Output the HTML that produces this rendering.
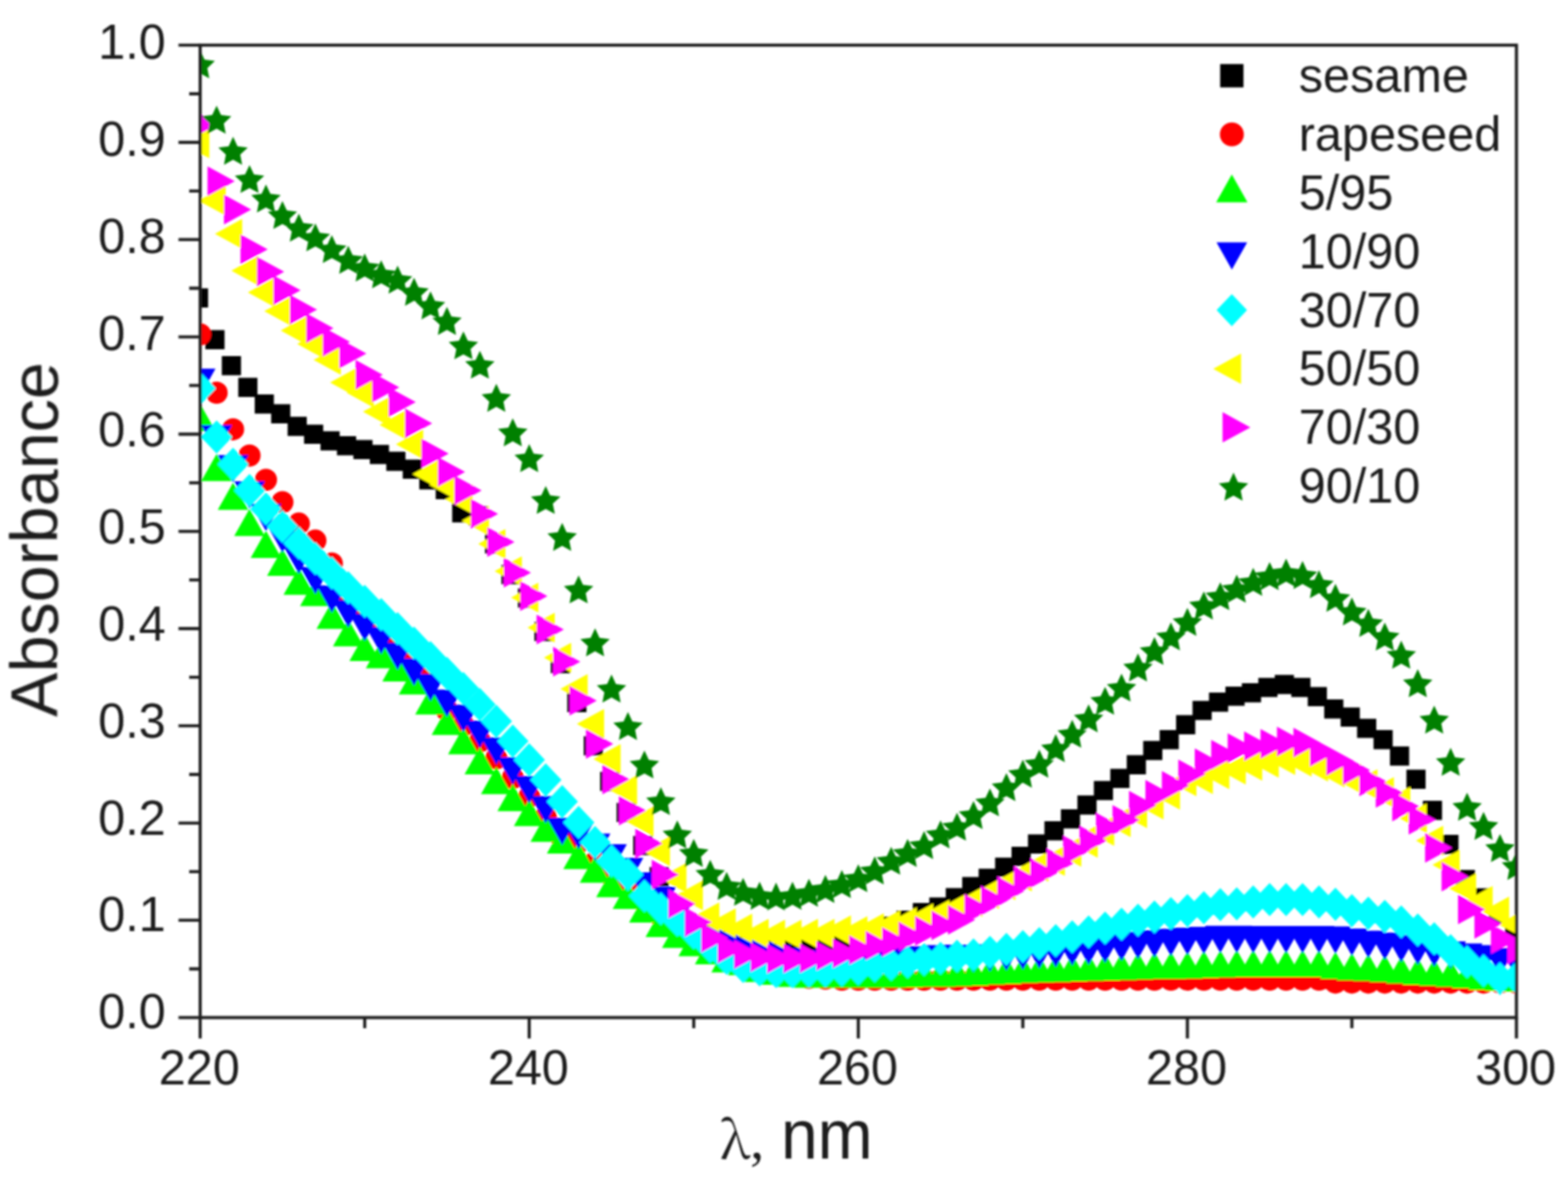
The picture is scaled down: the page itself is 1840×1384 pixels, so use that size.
<!DOCTYPE html>
<html><head><meta charset="utf-8"><title>Absorbance spectra</title>
<style>
html,body{margin:0;padding:0;background:#fff;}
body{width:1840px;height:1384px;overflow:hidden;}
svg{display:block;}
text{font-family:"Liberation Sans",Arial,sans-serif;fill:#1c1c1c;}
</style></head><body>
<svg xmlns="http://www.w3.org/2000/svg" width="1840" height="1384" viewBox="0 0 1840 1384">
<rect width="1840" height="1384" fill="#fff"/>
<defs><filter id="soft" x="0" y="0" width="100%" height="100%" filterUnits="userSpaceOnUse"><feGaussianBlur stdDeviation="0.9"/></filter><clipPath id="pa"><rect x="234.9" y="53" width="1544.6" height="1141.5"/></clipPath></defs>

<g filter="url(#soft)">
<g clip-path="url(#pa)">
<path fill="#000000" d="M221.7 338.5h22.5v22.5h-22.5zM241 387.6h22.5v22.5h-22.5zM260.3 417.9h22.5v22.5h-22.5zM279.6 443.6h22.5v22.5h-22.5zM298.9 463h22.5v22.5h-22.5zM318.2 474.4h22.5v22.5h-22.5zM337.5 489.2h22.5v22.5h-22.5zM356.8 498.4h22.5v22.5h-22.5zM376.1 506.3h22.5v22.5h-22.5zM395.4 512h22.5v22.5h-22.5zM414.7 516.6h22.5v22.5h-22.5zM434 522.3h22.5v22.5h-22.5zM453.3 530.3h22.5v22.5h-22.5zM472.6 539.4h22.5v22.5h-22.5zM492 552h22.5v22.5h-22.5zM511.3 563.4h22.5v22.5h-22.5zM530.6 590.8h22.5v22.5h-22.5zM549.9 594.2h22.5v22.5h-22.5zM569.2 627.3h22.5v22.5h-22.5zM588.5 663.3h22.5v22.5h-22.5zM607.8 690.8h22.5v22.5h-22.5zM627.1 730.1h22.5v22.5h-22.5zM646.4 767.7h22.5v22.5h-22.5zM665.7 813.4h22.5v22.5h-22.5zM685 864.2h22.5v22.5h-22.5zM704.3 906.1h22.5v22.5h-22.5zM723.6 942.4h22.5v22.5h-22.5zM743 981.2h22.5v22.5h-22.5zM762.3 1017.7h22.5v22.5h-22.5zM781.6 1052h22.5v22.5h-22.5zM800.9 1074.8h22.5v22.5h-22.5zM820.2 1086.2h22.5v22.5h-22.5zM839.5 1093.1h22.5v22.5h-22.5zM858.8 1097.6h22.5v22.5h-22.5zM878.1 1097.6h22.5v22.5h-22.5zM897.4 1095.4h22.5v22.5h-22.5zM916.7 1094.2h22.5v22.5h-22.5zM936 1093.1h22.5v22.5h-22.5zM955.3 1091.9h22.5v22.5h-22.5zM974.6 1090.8h22.5v22.5h-22.5zM993.9 1087.4h22.5v22.5h-22.5zM1013.3 1082.8h22.5v22.5h-22.5zM1032.6 1075.9h22.5v22.5h-22.5zM1051.9 1069.1h22.5v22.5h-22.5zM1071.2 1060h22.5v22.5h-22.5zM1090.5 1053.5h22.5v22.5h-22.5zM1109.8 1042.6h22.5v22.5h-22.5zM1129.1 1029.6h22.5v22.5h-22.5zM1148.4 1019.8h22.5v22.5h-22.5zM1167.7 1006.8h22.5v22.5h-22.5zM1187 993.9h22.5v22.5h-22.5zM1206.3 979.4h22.5v22.5h-22.5zM1225.6 963.9h22.5v22.5h-22.5zM1244.9 949.9h22.5v22.5h-22.5zM1264.3 933.7h22.5v22.5h-22.5zM1283.6 916.7h22.5v22.5h-22.5zM1302.9 902.6h22.5v22.5h-22.5zM1322.2 886.5h22.5v22.5h-22.5zM1341.5 869.7h22.5v22.5h-22.5zM1360.8 856.9h22.5v22.5h-22.5zM1380.1 839.5h22.5v22.5h-22.5zM1399.4 822.8h22.5v22.5h-22.5zM1418.7 812.9h22.5v22.5h-22.5zM1438 806.1h22.5v22.5h-22.5zM1457.3 802h22.5v22.5h-22.5zM1476.6 795.7h22.5v22.5h-22.5zM1495.9 792.3h22.5v22.5h-22.5zM1515.3 795.7h22.5v22.5h-22.5zM1534.6 806.6h22.5v22.5h-22.5zM1553.9 821.1h22.5v22.5h-22.5zM1573.2 830.5h22.5v22.5h-22.5zM1592.5 843.8h22.5v22.5h-22.5zM1611.8 857.1h22.5v22.5h-22.5zM1631.1 876.2h22.5v22.5h-22.5zM1650.4 903.6h22.5v22.5h-22.5zM1669.7 940.1h22.5v22.5h-22.5zM1689 980.1h22.5v22.5h-22.5zM1708.3 1021.2h22.5v22.5h-22.5zM1727.6 1042.8h22.5v22.5h-22.5zM1746.9 1063.4h22.5v22.5h-22.5zM1766.2 1080.5h22.5v22.5h-22.5z"/>
<path fill="#ff0000" d="M221.9 392.5a13 13 0 1 0 26 0a13 13 0 1 0 -26 0zM241.2 461a13 13 0 1 0 26 0a13 13 0 1 0 -26 0zM260.5 503.9a13 13 0 1 0 26 0a13 13 0 1 0 -26 0zM279.8 534.7a13 13 0 1 0 26 0a13 13 0 1 0 -26 0zM299.1 563.3a13 13 0 1 0 26 0a13 13 0 1 0 -26 0zM318.4 589.5a13 13 0 1 0 26 0a13 13 0 1 0 -26 0zM337.7 614.6a13 13 0 1 0 26 0a13 13 0 1 0 -26 0zM357.1 634.6a13 13 0 1 0 26 0a13 13 0 1 0 -26 0zM376.4 661.4a13 13 0 1 0 26 0a13 13 0 1 0 -26 0zM395.7 701.4a13 13 0 1 0 26 0a13 13 0 1 0 -26 0zM415 717.4a13 13 0 1 0 26 0a13 13 0 1 0 -26 0zM434.3 732.9a13 13 0 1 0 26 0a13 13 0 1 0 -26 0zM453.6 749.3a13 13 0 1 0 26 0a13 13 0 1 0 -26 0zM472.9 766.4a13 13 0 1 0 26 0a13 13 0 1 0 -26 0zM492.2 783.6a13 13 0 1 0 26 0a13 13 0 1 0 -26 0zM511.5 833.8a13 13 0 1 0 26 0a13 13 0 1 0 -26 0zM530.8 851.6a13 13 0 1 0 26 0a13 13 0 1 0 -26 0zM550.1 870.3a13 13 0 1 0 26 0a13 13 0 1 0 -26 0zM569.4 890.2a13 13 0 1 0 26 0a13 13 0 1 0 -26 0zM588.7 913.3a13 13 0 1 0 26 0a13 13 0 1 0 -26 0zM608 935.4a13 13 0 1 0 26 0a13 13 0 1 0 -26 0zM627.4 958.8a13 13 0 1 0 26 0a13 13 0 1 0 -26 0zM646.7 984.5a13 13 0 1 0 26 0a13 13 0 1 0 -26 0zM666 989a13 13 0 1 0 26 0a13 13 0 1 0 -26 0zM685.3 1011.9a13 13 0 1 0 26 0a13 13 0 1 0 -26 0zM704.6 1027.8a13 13 0 1 0 26 0a13 13 0 1 0 -26 0zM723.9 1042.7a13 13 0 1 0 26 0a13 13 0 1 0 -26 0zM743.2 1058.7a13 13 0 1 0 26 0a13 13 0 1 0 -26 0zM762.5 1075.8a13 13 0 1 0 26 0a13 13 0 1 0 -26 0zM781.8 1089.5a13 13 0 1 0 26 0a13 13 0 1 0 -26 0zM801.1 1100.9a13 13 0 1 0 26 0a13 13 0 1 0 -26 0zM820.4 1112.3a13 13 0 1 0 26 0a13 13 0 1 0 -26 0zM839.7 1122.6a13 13 0 1 0 26 0a13 13 0 1 0 -26 0zM859 1130.6a13 13 0 1 0 26 0a13 13 0 1 0 -26 0zM878.4 1137.4a13 13 0 1 0 26 0a13 13 0 1 0 -26 0zM897.7 1142a13 13 0 1 0 26 0a13 13 0 1 0 -26 0zM917 1145.4a13 13 0 1 0 26 0a13 13 0 1 0 -26 0zM936.3 1147.7a13 13 0 1 0 26 0a13 13 0 1 0 -26 0zM955.6 1148.8a13 13 0 1 0 26 0a13 13 0 1 0 -26 0zM974.9 1150a13 13 0 1 0 26 0a13 13 0 1 0 -26 0zM994.2 1150a13 13 0 1 0 26 0a13 13 0 1 0 -26 0zM1013.5 1150a13 13 0 1 0 26 0a13 13 0 1 0 -26 0zM1032.8 1150a13 13 0 1 0 26 0a13 13 0 1 0 -26 0zM1052.1 1150a13 13 0 1 0 26 0a13 13 0 1 0 -26 0zM1071.4 1150a13 13 0 1 0 26 0a13 13 0 1 0 -26 0zM1090.7 1150a13 13 0 1 0 26 0a13 13 0 1 0 -26 0zM1110 1150a13 13 0 1 0 26 0a13 13 0 1 0 -26 0zM1129.4 1150a13 13 0 1 0 26 0a13 13 0 1 0 -26 0zM1148.7 1150a13 13 0 1 0 26 0a13 13 0 1 0 -26 0zM1168 1150a13 13 0 1 0 26 0a13 13 0 1 0 -26 0zM1187.3 1150a13 13 0 1 0 26 0a13 13 0 1 0 -26 0zM1206.6 1150a13 13 0 1 0 26 0a13 13 0 1 0 -26 0zM1225.9 1150a13 13 0 1 0 26 0a13 13 0 1 0 -26 0zM1245.2 1150a13 13 0 1 0 26 0a13 13 0 1 0 -26 0zM1264.5 1150a13 13 0 1 0 26 0a13 13 0 1 0 -26 0zM1283.8 1150a13 13 0 1 0 26 0a13 13 0 1 0 -26 0zM1303.1 1150a13 13 0 1 0 26 0a13 13 0 1 0 -26 0zM1322.4 1150a13 13 0 1 0 26 0a13 13 0 1 0 -26 0zM1341.7 1150a13 13 0 1 0 26 0a13 13 0 1 0 -26 0zM1361 1150a13 13 0 1 0 26 0a13 13 0 1 0 -26 0zM1380.4 1150a13 13 0 1 0 26 0a13 13 0 1 0 -26 0zM1399.7 1150a13 13 0 1 0 26 0a13 13 0 1 0 -26 0zM1419 1150a13 13 0 1 0 26 0a13 13 0 1 0 -26 0zM1438.3 1150a13 13 0 1 0 26 0a13 13 0 1 0 -26 0zM1457.6 1150a13 13 0 1 0 26 0a13 13 0 1 0 -26 0zM1476.9 1150a13 13 0 1 0 26 0a13 13 0 1 0 -26 0zM1496.2 1150a13 13 0 1 0 26 0a13 13 0 1 0 -26 0zM1515.5 1150a13 13 0 1 0 26 0a13 13 0 1 0 -26 0zM1534.8 1150a13 13 0 1 0 26 0a13 13 0 1 0 -26 0zM1554.1 1153.4a13 13 0 1 0 26 0a13 13 0 1 0 -26 0zM1573.4 1153.4a13 13 0 1 0 26 0a13 13 0 1 0 -26 0zM1592.7 1153.4a13 13 0 1 0 26 0a13 13 0 1 0 -26 0zM1612 1153.4a13 13 0 1 0 26 0a13 13 0 1 0 -26 0zM1631.3 1153.4a13 13 0 1 0 26 0a13 13 0 1 0 -26 0zM1650.7 1153.4a13 13 0 1 0 26 0a13 13 0 1 0 -26 0zM1670 1153.4a13 13 0 1 0 26 0a13 13 0 1 0 -26 0zM1689.3 1153.4a13 13 0 1 0 26 0a13 13 0 1 0 -26 0zM1708.6 1153.4a13 13 0 1 0 26 0a13 13 0 1 0 -26 0zM1727.9 1153.4a13 13 0 1 0 26 0a13 13 0 1 0 -26 0zM1747.2 1153.4a13 13 0 1 0 26 0a13 13 0 1 0 -26 0zM1766.5 1153.4a13 13 0 1 0 26 0a13 13 0 1 0 -26 0z"/>
<path fill="#00ff00" d="M234.9 474L252.9 506L216.9 506ZM254.2 532.8L272.2 564.8L236.2 564.8ZM273.5 566.5L291.5 598.5L255.5 598.5ZM292.8 597.3L310.8 629.3L274.8 629.3ZM312.1 623L330.1 655L294.1 655ZM331.4 644.1L349.4 676.1L313.4 676.1ZM350.7 666.3L368.7 698.3L332.7 698.3ZM370.1 679.5L388.1 711.5L352.1 711.5ZM389.4 706.3L407.4 738.3L371.4 738.3ZM408.7 726.8L426.7 758.8L390.7 758.8ZM428 744L446 776L410 776ZM447.3 752.4L465.3 784.4L429.3 784.4ZM466.6 767.9L484.6 799.9L448.6 799.9ZM485.9 783.3L503.9 815.3L467.9 815.3ZM505.2 806.7L523.2 838.7L487.2 838.7ZM524.5 830.7L542.5 862.7L506.5 862.7ZM543.8 853.5L561.8 885.5L525.8 885.5ZM563.1 876.9L581.1 908.9L545.1 908.9ZM582.4 900.3L600.4 932.3L564.4 932.3ZM601.7 920.2L619.7 952.2L583.7 952.2ZM621 937.7L639 969.7L603 969.7ZM640.4 956.3L658.4 988.3L622.4 988.3ZM659.7 970L677.7 1002L641.7 1002ZM679 988.2L697 1020.2L661 1020.2ZM698.3 1004.2L716.3 1036.2L680.3 1036.2ZM717.6 1021.3L735.6 1053.3L699.6 1053.3ZM736.9 1035L754.9 1067L718.9 1067ZM756.2 1051L774.2 1083L738.2 1083ZM775.5 1068.1L793.5 1100.1L757.5 1100.1ZM794.8 1080.7L812.8 1112.7L776.8 1112.7ZM814.1 1090.5L832.1 1122.5L796.1 1122.5ZM833.4 1100.1L851.4 1132.1L815.4 1132.1ZM852.7 1109.6L870.7 1141.6L834.7 1141.6ZM872 1112.8L890 1144.8L854 1144.8ZM891.4 1120.7L909.4 1152.7L873.4 1152.7ZM910.7 1124.1L928.7 1156.1L892.7 1156.1ZM930 1126.4L948 1158.4L912 1158.4ZM949.3 1127.5L967.3 1159.5L931.3 1159.5ZM968.6 1127.5L986.6 1159.5L950.6 1159.5ZM987.9 1127.5L1005.9 1159.5L969.9 1159.5ZM1007.2 1127.5L1025.2 1159.5L989.2 1159.5ZM1026.5 1127.5L1044.5 1159.5L1008.5 1159.5ZM1045.8 1127.5L1063.8 1159.5L1027.8 1159.5ZM1065.1 1126.9L1083.1 1158.9L1047.1 1158.9ZM1084.4 1126.4L1102.4 1158.4L1066.4 1158.4ZM1103.7 1126.4L1121.7 1158.4L1085.7 1158.4ZM1123 1125.8L1141 1157.8L1105 1157.8ZM1142.4 1125L1160.4 1157L1124.4 1157ZM1161.7 1123.7L1179.7 1155.7L1143.7 1155.7ZM1181 1122.9L1199 1154.9L1163 1154.9ZM1200.3 1121.8L1218.3 1153.8L1182.3 1153.8ZM1219.6 1121.2L1237.6 1153.2L1201.6 1153.2ZM1238.9 1120.7L1256.9 1152.7L1220.9 1152.7ZM1258.2 1120.1L1276.2 1152.1L1240.2 1152.1ZM1277.5 1119.5L1295.5 1151.5L1259.5 1151.5ZM1296.8 1118.9L1314.8 1150.9L1278.8 1150.9ZM1316.1 1118.4L1334.1 1150.4L1298.1 1150.4ZM1335.4 1117.8L1353.4 1149.8L1317.4 1149.8ZM1354.7 1117.2L1372.7 1149.2L1336.7 1149.2ZM1374 1117.2L1392 1149.2L1356 1149.2ZM1393.4 1116.7L1411.4 1148.7L1375.4 1148.7ZM1412.7 1116.1L1430.7 1148.1L1394.7 1148.1ZM1432 1115.5L1450 1147.5L1414 1147.5ZM1451.3 1115L1469.3 1147L1433.3 1147ZM1470.6 1115L1488.6 1147L1452.6 1147ZM1489.9 1115L1507.9 1147L1471.9 1147ZM1509.2 1115L1527.2 1147L1491.2 1147ZM1528.5 1115L1546.5 1147L1510.5 1147ZM1547.8 1115L1565.8 1147L1529.8 1147ZM1567.1 1117.2L1585.1 1149.2L1549.1 1149.2ZM1586.4 1118.7L1604.4 1150.7L1568.4 1150.7ZM1605.7 1119.5L1623.7 1151.5L1587.7 1151.5ZM1625 1120.7L1643 1152.7L1607 1152.7ZM1644.3 1122.5L1662.3 1154.5L1626.3 1154.5ZM1663.7 1124.1L1681.7 1156.1L1645.7 1156.1ZM1683 1125.2L1701 1157.2L1665 1157.2ZM1702.3 1126.4L1720.3 1158.4L1684.3 1158.4ZM1721.6 1128.1L1739.6 1160.1L1703.6 1160.1ZM1740.9 1130.1L1758.9 1162.1L1722.9 1162.1ZM1760.2 1130.9L1778.2 1162.9L1742.2 1162.9ZM1779.5 1132.1L1797.5 1164.1L1761.5 1164.1Z"/>
<path fill="#0000ff" d="M216.9 432.7L252.9 432.7L234.9 464.7ZM236.2 498.9L272.2 498.9L254.2 530.9ZM255.5 534.3L291.5 534.3L273.5 566.3ZM274.8 565.1L310.8 565.1L292.8 597.1ZM294.1 591.4L330.1 591.4L312.1 623.4ZM313.4 616.5L349.4 616.5L331.4 648.5ZM332.7 641.6L368.7 641.6L350.7 673.6ZM352.1 665.6L388.1 665.6L370.1 697.6ZM371.4 687.3L407.4 687.3L389.4 719.3ZM390.7 704.4L426.7 704.4L408.7 736.4ZM410 720.4L446 720.4L428 752.4ZM429.3 735.9L465.3 735.9L447.3 767.9ZM448.6 754.6L484.6 754.6L466.6 786.6ZM467.9 772.9L503.9 772.9L485.9 804.9ZM487.2 791.2L523.2 791.2L505.2 823.2ZM506.5 809.4L542.5 809.4L524.5 841.4ZM525.8 827.2L561.8 827.2L543.8 859.2ZM545.1 845.9L581.1 845.9L563.1 877.9ZM564.4 865.8L600.4 865.8L582.4 897.8ZM583.7 889L619.7 889L601.7 921ZM603 911L639 911L621 943ZM622.4 934.4L658.4 934.4L640.4 966.4ZM641.7 960.1L677.7 960.1L659.7 992.1ZM661 964.7L697 964.7L679 996.7ZM680.3 978.4L716.3 978.4L698.3 1010.4ZM699.6 990.9L735.6 990.9L717.6 1022.9ZM718.9 1006.9L754.9 1006.9L736.9 1038.9ZM738.2 1024L774.2 1024L756.2 1056ZM757.5 1041.1L793.5 1041.1L775.5 1073.1ZM776.8 1058.3L812.8 1058.3L794.8 1090.3ZM796.1 1075.4L832.1 1075.4L814.1 1107.4ZM815.4 1087.9L851.4 1087.9L833.4 1119.9ZM834.7 1094.8L870.7 1094.8L852.7 1126.8ZM854 1101.6L890 1101.6L872 1133.6ZM873.4 1106.2L909.4 1106.2L891.4 1138.2ZM892.7 1109.6L928.7 1109.6L910.7 1141.6ZM912 1113.1L948 1113.1L930 1145.1ZM931.3 1115.3L967.3 1115.3L949.3 1147.3ZM950.6 1117.6L986.6 1117.6L968.6 1149.6ZM969.9 1118.8L1005.9 1118.8L987.9 1150.8ZM989.2 1118.8L1025.2 1118.8L1007.2 1150.8ZM1008.5 1114.8L1044.5 1114.8L1026.5 1146.8ZM1027.8 1113.1L1063.8 1113.1L1045.8 1145.1ZM1047.1 1111.9L1083.1 1111.9L1065.1 1143.9ZM1066.4 1110.8L1102.4 1110.8L1084.4 1142.8ZM1085.7 1109.6L1121.7 1109.6L1103.7 1141.6ZM1105 1109.1L1141 1109.1L1123 1141.1ZM1124.4 1109.6L1160.4 1109.6L1142.4 1141.6ZM1143.7 1108.5L1179.7 1108.5L1161.7 1140.5ZM1163 1107.4L1199 1107.4L1181 1139.4ZM1182.3 1106.2L1218.3 1106.2L1200.3 1138.2ZM1201.6 1105.1L1237.6 1105.1L1219.6 1137.1ZM1220.9 1103.4L1256.9 1103.4L1238.9 1135.4ZM1240.2 1101.6L1276.2 1101.6L1258.2 1133.6ZM1259.5 1100.5L1295.5 1100.5L1277.5 1132.5ZM1278.8 1098.2L1314.8 1098.2L1296.8 1130.2ZM1298.1 1095.9L1334.1 1095.9L1316.1 1127.9ZM1317.4 1093.7L1353.4 1093.7L1335.4 1125.7ZM1336.7 1091.9L1372.7 1091.9L1354.7 1123.9ZM1356 1090.2L1392 1090.2L1374 1122.2ZM1375.4 1089.1L1411.4 1089.1L1393.4 1121.1ZM1394.7 1087.9L1430.7 1087.9L1412.7 1119.9ZM1414 1086.8L1450 1086.8L1432 1118.8ZM1433.3 1086.8L1469.3 1086.8L1451.3 1118.8ZM1452.6 1087L1488.6 1087L1470.6 1119ZM1471.9 1087L1507.9 1087L1489.9 1119ZM1491.2 1087L1527.2 1087L1509.2 1119ZM1510.5 1087L1546.5 1087L1528.5 1119ZM1529.8 1087L1565.8 1087L1547.8 1119ZM1549.1 1087.4L1585.1 1087.4L1567.1 1119.4ZM1568.4 1089.9L1604.4 1089.9L1586.4 1121.9ZM1587.7 1092.5L1623.7 1092.5L1605.7 1124.5ZM1607 1094.8L1643 1094.8L1625 1126.8ZM1626.3 1097.4L1662.3 1097.4L1644.3 1129.4ZM1645.7 1100.5L1681.7 1100.5L1663.7 1132.5ZM1665 1102.8L1701 1102.8L1683 1134.8ZM1684.3 1105.1L1720.3 1105.1L1702.3 1137.1ZM1703.6 1107.4L1739.6 1107.4L1721.6 1139.4ZM1722.9 1109.6L1758.9 1109.6L1740.9 1141.6ZM1742.2 1113.1L1778.2 1113.1L1760.2 1145.1ZM1761.5 1115.3L1797.5 1115.3L1779.5 1147.3Z"/>
<path fill="#00ffff" d="M234.9 436.4L253.4 455.9L234.9 475.4L216.4 455.9ZM254.2 493.5L272.7 513L254.2 532.5L235.7 513ZM273.5 525.5L292 545L273.5 564.5L255 545ZM292.8 556.3L311.3 575.8L292.8 595.3L274.3 575.8ZM312.1 578L330.6 597.5L312.1 617L293.6 597.5ZM331.4 598.5L349.9 618L331.4 637.5L312.9 618ZM350.7 617.9L369.2 637.4L350.7 656.9L332.2 637.4ZM370.1 636.2L388.6 655.7L370.1 675.2L351.6 655.7ZM389.4 653.3L407.9 672.8L389.4 692.3L370.9 672.8ZM408.7 670.5L427.2 690L408.7 709.5L390.2 690ZM428 686.4L446.5 705.9L428 725.4L409.5 705.9ZM447.3 702L465.8 721.5L447.3 741L428.8 721.5ZM466.6 718.4L485.1 737.9L466.6 757.4L448.1 737.9ZM485.9 735.5L504.4 755L485.9 774.5L467.4 755ZM505.2 752.6L523.7 772.1L505.2 791.6L486.7 772.1ZM524.5 770.9L543 790.4L524.5 809.9L506 790.4ZM543.8 788.7L562.3 808.2L543.8 827.7L525.3 808.2ZM563.1 807.4L581.6 826.9L563.1 846.4L544.6 826.9ZM582.4 827.3L600.9 846.8L582.4 866.3L563.9 846.8ZM601.7 850.5L620.2 870L601.7 889.5L583.2 870ZM621 872.5L639.5 892L621 911.5L602.5 892ZM640.4 895.9L658.9 915.4L640.4 934.9L621.9 915.4ZM659.7 921.6L678.2 941.1L659.7 960.6L641.2 941.1ZM679 945.9L697.5 965.4L679 984.9L660.5 965.4ZM698.3 969.5L716.8 989L698.3 1008.5L679.8 989ZM717.6 991.2L736.1 1010.7L717.6 1030.2L699.1 1010.7ZM736.9 1007.2L755.4 1026.7L736.9 1046.2L718.4 1026.7ZM756.2 1032.3L774.7 1051.8L756.2 1071.3L737.7 1051.8ZM775.5 1047.2L794 1066.7L775.5 1086.2L757 1066.7ZM794.8 1060.8L813.3 1080.3L794.8 1099.8L776.3 1080.3ZM814.1 1075.7L832.6 1095.2L814.1 1114.7L795.6 1095.2ZM833.4 1091.7L851.9 1111.2L833.4 1130.7L814.9 1111.2ZM852.7 1105.4L871.2 1124.9L852.7 1144.4L834.2 1124.9ZM872 1115L890.5 1134.5L872 1154L853.5 1134.5ZM891.4 1119.1L909.9 1138.6L891.4 1158.1L872.9 1138.6ZM910.7 1120.9L929.2 1140.4L910.7 1159.9L892.2 1140.4ZM930 1121.3L948.5 1140.8L930 1160.3L911.5 1140.8ZM949.3 1120.4L967.8 1139.9L949.3 1159.4L930.8 1139.9ZM968.6 1120.2L987.1 1139.7L968.6 1159.2L950.1 1139.7ZM987.9 1119.6L1006.4 1139.1L987.9 1158.6L969.4 1139.1ZM1007.2 1117.9L1025.7 1137.4L1007.2 1156.9L988.7 1137.4ZM1026.5 1114.5L1045 1134L1026.5 1153.5L1008 1134ZM1045.8 1112.7L1064.3 1132.2L1045.8 1151.7L1027.3 1132.2ZM1065.1 1109.9L1083.6 1129.4L1065.1 1148.9L1046.6 1129.4ZM1084.4 1107L1102.9 1126.5L1084.4 1146L1065.9 1126.5ZM1103.7 1105.4L1122.2 1124.9L1103.7 1144.4L1085.2 1124.9ZM1123 1103.1L1141.5 1122.6L1123 1142.1L1104.5 1122.6ZM1142.4 1101.4L1160.9 1120.9L1142.4 1140.4L1123.9 1120.9ZM1161.7 1098.5L1180.2 1118L1161.7 1137.5L1143.2 1118ZM1181 1095.1L1199.5 1114.6L1181 1134.1L1162.5 1114.6ZM1200.3 1091.7L1218.8 1111.2L1200.3 1130.7L1181.8 1111.2ZM1219.6 1088.2L1238.1 1107.7L1219.6 1127.2L1201.1 1107.7ZM1238.9 1084.8L1257.4 1104.3L1238.9 1123.8L1220.4 1104.3ZM1258.2 1080.3L1276.7 1099.8L1258.2 1119.3L1239.7 1099.8ZM1277.5 1074.5L1296 1094L1277.5 1113.5L1259 1094ZM1296.8 1070L1315.3 1089.5L1296.8 1109L1278.3 1089.5ZM1316.1 1065.4L1334.6 1084.9L1316.1 1104.4L1297.6 1084.9ZM1335.4 1060.8L1353.9 1080.3L1335.4 1099.8L1316.9 1080.3ZM1354.7 1056.9L1373.2 1076.4L1354.7 1095.9L1336.2 1076.4ZM1374 1052.9L1392.5 1072.4L1374 1091.9L1355.5 1072.4ZM1393.4 1049.4L1411.9 1068.9L1393.4 1088.4L1374.9 1068.9ZM1412.7 1046L1431.2 1065.5L1412.7 1085L1394.2 1065.5ZM1432 1042.6L1450.5 1062.1L1432 1081.6L1413.5 1062.1ZM1451.3 1041.4L1469.8 1060.9L1451.3 1080.4L1432.8 1060.9ZM1470.6 1039.3L1489.1 1058.8L1470.6 1078.3L1452.1 1058.8ZM1489.9 1036.4L1508.4 1055.9L1489.9 1075.4L1471.4 1055.9ZM1509.2 1036.4L1527.7 1055.9L1509.2 1075.4L1490.7 1055.9ZM1528.5 1036.4L1547 1055.9L1528.5 1075.4L1510 1055.9ZM1547.8 1039.3L1566.3 1058.8L1547.8 1078.3L1529.3 1058.8ZM1567.1 1042.1L1585.6 1061.6L1567.1 1081.1L1548.6 1061.6ZM1586.4 1049.5L1604.9 1069L1586.4 1088.5L1567.9 1069ZM1605.7 1052.4L1624.2 1071.9L1605.7 1091.4L1587.2 1071.9ZM1625 1056.2L1643.5 1075.7L1625 1095.2L1606.5 1075.7ZM1644.3 1062.7L1662.8 1082.2L1644.3 1101.7L1625.8 1082.2ZM1663.7 1072.2L1682.2 1091.7L1663.7 1111.2L1645.2 1091.7ZM1683 1082.5L1701.5 1102L1683 1121.5L1664.5 1102ZM1702.3 1096.6L1720.8 1116.1L1702.3 1135.6L1683.8 1116.1ZM1721.6 1109.7L1740.1 1129.2L1721.6 1148.7L1703.1 1129.2ZM1740.9 1120.1L1759.4 1139.6L1740.9 1159.1L1722.4 1139.6ZM1760.2 1129.3L1778.7 1148.8L1760.2 1168.3L1741.7 1148.8ZM1779.5 1128.2L1798 1147.7L1779.5 1167.2L1761 1147.7Z"/>
<path fill="#ffff00" d="M213.6 168.3L245.6 150.8L245.6 185.8ZM232.9 235.6L264.9 218.1L264.9 253.1ZM252.2 274.5L284.2 257L284.2 292ZM271.5 317.8L303.5 300.3L303.5 335.3ZM290.8 343.2L322.8 325.7L322.8 360.7ZM310.1 365.3L342.1 347.8L342.1 382.8ZM329.4 388.1L361.4 370.6L361.4 405.6ZM348.7 403.7L380.7 386.2L380.7 421.2ZM368 422.5L400 405L400 440ZM387.3 449.1L419.3 431.6L419.3 466.6ZM406.6 461.1L438.6 443.6L438.6 478.6ZM425.9 483.3L457.9 465.8L457.9 500.8ZM445.3 498.8L477.3 481.3L477.3 516.3ZM464.6 521.6L496.6 504.1L496.6 539.1ZM483.9 556.4L515.9 538.9L515.9 573.9ZM503.2 569L535.2 551.5L535.2 586.5ZM522.5 586.1L554.5 568.6L554.5 603.6ZM541.8 611.2L573.8 593.7L573.8 628.7ZM561.1 638.6L593.1 621.1L593.1 656.1ZM580.4 670.6L612.4 653.1L612.4 688.1ZM599.7 701.4L631.7 683.9L631.7 718.9ZM619 736.8L651 719.3L651 754.3ZM638.3 772.1L670.3 754.6L670.3 789.6ZM657.6 808.7L689.6 791.2L689.6 826.2ZM676.9 849.8L708.9 832.3L708.9 867.3ZM696.3 890.9L728.3 873.4L728.3 908.4ZM715.6 927.4L747.6 909.9L747.6 944.9ZM734.9 964.3L766.9 946.8L766.9 981.8ZM754.2 999.3L786.2 981.8L786.2 1016.8ZM773.5 1030.5L805.5 1013L805.5 1048ZM792.8 1050.9L824.8 1033.4L824.8 1068.4ZM812.1 1076.7L844.1 1059.2L844.1 1094.2ZM831.4 1083.8L863.4 1066.3L863.4 1101.3ZM850.7 1089.9L882.7 1072.4L882.7 1107.4ZM870 1096L902 1078.5L902 1113.5ZM889.3 1097L921.3 1079.5L921.3 1114.5ZM908.6 1097L940.6 1079.5L940.6 1114.5ZM927.9 1096L959.9 1078.5L959.9 1113.5ZM947.3 1096L979.3 1078.5L979.3 1113.5ZM966.6 1091.9L998.6 1074.4L998.6 1109.4ZM985.9 1092.9L1017.9 1075.4L1017.9 1110.4ZM1005.2 1089.5L1037.2 1072L1037.2 1107ZM1024.5 1086.1L1056.5 1068.6L1056.5 1103.6ZM1043.8 1082.6L1075.8 1065.1L1075.8 1100.1ZM1063.1 1078.1L1095.1 1060.6L1095.1 1095.6ZM1082.4 1073.5L1114.4 1056L1114.4 1091ZM1101.7 1066.7L1133.7 1049.2L1133.7 1084.2ZM1121 1058.7L1153 1041.2L1153 1076.2ZM1140.3 1049.5L1172.3 1032L1172.3 1067ZM1159.6 1039.3L1191.6 1021.8L1191.6 1056.8ZM1178.9 1029L1210.9 1011.5L1210.9 1046.5ZM1198.2 1017.6L1230.2 1000.1L1230.2 1035.1ZM1217.6 1010.7L1249.6 993.2L1249.6 1028.2ZM1236.9 999.9L1268.9 982.4L1268.9 1017.4ZM1256.2 989.5L1288.2 972L1288.2 1007ZM1275.5 975.6L1307.5 958.1L1307.5 993.1ZM1294.8 965.2L1326.8 947.7L1326.8 982.7ZM1314.1 954.8L1346.1 937.3L1346.1 972.3ZM1333.4 944.5L1365.4 927L1365.4 962ZM1352.7 933.1L1384.7 915.6L1384.7 950.6ZM1372 917.3L1404 899.8L1404 934.8ZM1391.3 914.8L1423.3 897.3L1423.3 932.3ZM1410.6 909.1L1442.6 891.6L1442.6 926.6ZM1429.9 903.4L1461.9 885.9L1461.9 920.9ZM1449.2 898.9L1481.2 881.4L1481.2 916.4ZM1468.6 895.4L1500.6 877.9L1500.6 912.9ZM1487.9 892.2L1519.9 874.7L1519.9 909.7ZM1507.2 894.3L1539.2 876.8L1539.2 911.8ZM1526.5 900L1558.5 882.5L1558.5 917.5ZM1545.8 906.8L1577.8 889.3L1577.8 924.3ZM1565.1 913.7L1597.1 896.2L1597.1 931.2ZM1584.4 920.5L1616.4 903L1616.4 938ZM1603.7 929.7L1635.7 912.2L1635.7 947.2ZM1623 941.1L1655 923.6L1655 958.6ZM1642.3 960.5L1674.3 943L1674.3 978ZM1661.6 986.7L1693.6 969.2L1693.6 1004.2ZM1680.9 1015.3L1712.9 997.8L1712.9 1032.8ZM1700.2 1042.7L1732.2 1025.2L1732.2 1060.2ZM1719.6 1057.5L1751.6 1040L1751.6 1075ZM1738.9 1070.1L1770.9 1052.6L1770.9 1087.6ZM1758.2 1084.9L1790.2 1067.4L1790.2 1102.4Z"/>
<path fill="#ff00ff" d="M256.2 145.5L224.2 163L224.2 128ZM275.5 212.8L243.5 230.3L243.5 195.3ZM294.8 245.9L262.8 263.4L262.8 228.4ZM314.2 292.7L282.2 310.2L282.2 275.2ZM333.5 319L301.5 336.5L301.5 301.5ZM352.8 340.7L320.8 358.2L320.8 323.2ZM372.1 363.5L340.1 381L340.1 346ZM391.4 385.2L359.4 402.7L359.4 367.7ZM410.7 401.2L378.7 418.7L378.7 383.7ZM430 414.9L398 432.4L398 397.4ZM449.3 440L417.3 457.5L417.3 422.5ZM468.6 454.8L436.6 472.3L436.6 437.3ZM487.9 471.9L455.9 489.4L455.9 454.4ZM507.2 497L475.2 514.5L475.2 479.5ZM526.5 532.4L494.5 549.9L494.5 514.9ZM545.8 554.1L513.8 571.6L513.8 536.6ZM565.2 575.8L533.2 593.3L533.2 558.3ZM584.5 603.2L552.5 620.7L552.5 585.7ZM603.8 636.3L571.8 653.8L571.8 618.8ZM623.1 672.3L591.1 689.8L591.1 654.8ZM642.4 699.8L610.4 717.3L610.4 682.3ZM661.7 739L629.7 756.5L629.7 721.5ZM681 776.7L649 794.2L649 759.2ZM700.3 822.4L668.3 839.9L668.3 804.9ZM719.6 873.2L687.6 890.7L687.6 855.7ZM738.9 915.1L706.9 932.6L706.9 897.6ZM758.2 951.4L726.2 968.9L726.2 933.9ZM777.5 990.2L745.5 1007.7L745.5 972.7ZM796.8 1026.7L764.8 1044.2L764.8 1009.2ZM816.2 1060.9L784.2 1078.4L784.2 1043.4ZM835.5 1082.6L803.5 1100.1L803.5 1065.1ZM854.8 1100.9L822.8 1118.4L822.8 1083.4ZM874.1 1113.5L842.1 1131L842.1 1096ZM893.4 1120.3L861.4 1137.8L861.4 1102.8ZM912.7 1123.7L880.7 1141.2L880.7 1106.2ZM932 1125.4L900 1142.9L900 1107.9ZM951.3 1125.3L919.3 1142.8L919.3 1107.8ZM970.6 1124.9L938.6 1142.4L938.6 1107.4ZM989.9 1122.2L957.9 1139.7L957.9 1104.7ZM1009.2 1119.3L977.2 1136.8L977.2 1101.8ZM1028.5 1115.2L996.5 1132.7L996.5 1097.7ZM1047.8 1110.1L1015.8 1127.6L1015.8 1092.6ZM1067.1 1105.8L1035.1 1123.3L1035.1 1088.3ZM1086.5 1099.3L1054.5 1116.8L1054.5 1081.8ZM1105.8 1092.8L1073.8 1110.3L1073.8 1075.3ZM1125.1 1086.3L1093.1 1103.8L1093.1 1068.8ZM1144.4 1079.8L1112.4 1097.3L1112.4 1062.3ZM1163.7 1066.7L1131.7 1084.2L1131.7 1049.2ZM1183 1056.9L1151 1074.4L1151 1039.4ZM1202.3 1046.1L1170.3 1063.6L1170.3 1028.6ZM1221.6 1034.1L1189.6 1051.6L1189.6 1016.6ZM1240.9 1024.8L1208.9 1042.3L1208.9 1007.3ZM1260.2 1013.3L1228.2 1030.8L1228.2 995.8ZM1279.5 998.2L1247.5 1015.7L1247.5 980.7ZM1298.8 986.7L1266.8 1004.2L1266.8 969.2ZM1318.1 971.6L1286.1 989.1L1286.1 954.1ZM1337.5 962.4L1305.5 979.9L1305.5 944.9ZM1356.8 945.7L1324.8 963.2L1324.8 928.2ZM1376.1 932.9L1344.1 950.4L1344.1 915.4ZM1395.4 922.5L1363.4 940L1363.4 905ZM1414.7 909.1L1382.7 926.6L1382.7 891.6ZM1434 895.9L1402 913.4L1402 878.4ZM1453.3 886.1L1421.3 903.6L1421.3 868.6ZM1472.6 878.3L1440.6 895.8L1440.6 860.8ZM1491.9 876L1459.9 893.5L1459.9 858.5ZM1511.2 873.2L1479.2 890.7L1479.2 855.7ZM1530.5 870.4L1498.5 887.9L1498.5 852.9ZM1549.8 871.8L1517.8 889.3L1517.8 854.3ZM1569.1 882.5L1537.1 900L1537.1 865ZM1588.5 893.1L1556.5 910.6L1556.5 875.6ZM1607.8 903.9L1575.8 921.4L1575.8 886.4ZM1627.1 917.3L1595.1 934.8L1595.1 899.8ZM1646.4 930.7L1614.4 948.2L1614.4 913.2ZM1665.7 946.7L1633.7 964.2L1633.7 929.2ZM1685 962.3L1653 979.8L1653 944.8ZM1704.3 995.2L1672.3 1012.7L1672.3 977.7ZM1723.6 1029.1L1691.6 1046.6L1691.6 1011.6ZM1742.9 1067.6L1710.9 1085.1L1710.9 1050.1ZM1762.2 1084.5L1730.2 1102L1730.2 1067ZM1781.5 1102.4L1749.5 1119.9L1749.5 1084.9ZM1800.8 1114.6L1768.8 1132.1L1768.8 1097.1Z"/>
<path fill="#008000" d="M234.9 59L240.1 70.1L252.2 71.6L243.3 79.9L245.6 91.9L234.9 86L224.2 91.9L226.5 79.9L217.6 71.6L229.7 70.1ZM254.2 124.1L259.4 135.1L271.5 136.6L262.6 145L264.9 157L254.2 151.1L243.5 157L245.8 145L236.9 136.6L249 135.1ZM273.5 160.6L278.7 171.7L290.8 173.2L281.9 181.5L284.2 193.5L273.5 187.6L262.8 193.5L265.1 181.5L256.2 173.2L268.3 171.7ZM292.8 193.7L298 204.8L310.1 206.3L301.2 214.6L303.5 226.6L292.8 220.7L282.1 226.6L284.5 214.6L275.5 206.3L287.6 204.8ZM312.1 216.5L317.3 227.6L329.4 229.1L320.5 237.4L322.8 249.4L312.1 243.5L301.4 249.4L303.8 237.4L294.8 229.1L307 227.6ZM331.4 235.9L336.6 247L348.7 248.5L339.8 256.8L342.1 268.8L331.4 262.9L320.7 268.8L323.1 256.8L314.1 248.5L326.3 247ZM350.7 250.8L355.9 261.8L368.1 263.3L359.1 271.7L361.4 283.7L350.7 277.8L340 283.7L342.4 271.7L333.4 263.3L345.6 261.8ZM370.1 262.2L375.2 273.3L387.4 274.8L378.4 283.1L380.8 295.1L370.1 289.2L359.4 295.1L361.7 283.1L352.7 274.8L364.9 273.3ZM389.4 275.9L394.5 287L406.7 288.4L397.7 296.8L400.1 308.8L389.4 302.9L378.7 308.8L381 296.8L372.1 288.4L384.2 287ZM408.7 288.4L413.8 299.5L426 301L417 309.3L419.4 321.4L408.7 315.4L398 321.4L400.3 309.3L391.4 301L403.5 299.5ZM428 297.6L433.1 308.6L445.3 310.1L436.3 318.5L438.7 330.5L428 324.6L417.3 330.5L419.6 318.5L410.7 310.1L422.8 308.6ZM447.3 305.6L452.5 316.6L464.6 318.1L455.7 326.5L458 338.5L447.3 332.6L436.6 338.5L438.9 326.5L430 318.1L442.1 316.6ZM466.6 311.8L471.8 322.9L483.9 324.4L475 332.8L477.3 344.8L466.6 338.8L455.9 344.8L458.2 332.8L449.3 324.4L461.4 322.9ZM485.9 326.1L491.1 337.2L503.2 338.7L494.3 347L496.6 359L485.9 353.1L475.2 359L477.5 347L468.6 338.7L480.7 337.2ZM505.2 342.1L510.4 353.2L522.5 354.7L513.6 363L515.9 375L505.2 369.1L494.5 375L496.8 363L487.9 354.7L500 353.2ZM524.5 360.3L529.7 371.4L541.8 372.9L532.9 381.3L535.2 393.3L524.5 387.3L513.8 393.3L516.1 381.3L507.2 372.9L519.3 371.4ZM543.8 388.9L549 400L561.1 401.5L552.2 409.8L554.5 421.8L543.8 415.9L533.1 421.8L535.5 409.8L526.5 401.5L538.6 400ZM563.1 411.7L568.3 422.8L580.4 424.3L571.5 432.6L573.8 444.6L563.1 438.7L552.4 444.6L554.8 432.6L545.8 424.3L558 422.8ZM582.4 450.5L587.6 461.6L599.7 463.1L590.8 471.4L593.1 483.4L582.4 477.5L571.7 483.4L574.1 471.4L565.1 463.1L577.3 461.6ZM601.7 491L606.9 502.1L619.1 503.6L610.1 512L612.4 524L601.7 518L591 524L593.4 512L584.4 503.6L596.6 502.1ZM621 521.3L626.2 532.4L638.4 533.9L629.4 542.2L631.7 554.2L621 548.3L610.4 554.2L612.7 542.2L603.7 533.9L615.9 532.4ZM640.4 570.4L645.5 581.5L657.7 583L648.7 591.3L651.1 603.3L640.4 597.4L629.7 603.3L632 591.3L623 583L635.2 581.5ZM659.7 613.8L664.8 624.8L677 626.3L668 634.7L670.4 646.7L659.7 640.8L649 646.7L651.3 634.7L642.4 626.3L654.5 624.8ZM679 675.4L684.1 686.5L696.3 688L687.3 696.3L689.7 708.3L679 702.4L668.3 708.3L670.6 696.3L661.7 688L673.8 686.5ZM698.3 737.6L703.5 748.7L715.6 750.2L706.6 758.5L709 770.5L698.3 764.6L687.6 770.5L689.9 758.5L681 750.2L693.1 748.7ZM717.6 791.8L722.8 802.9L734.9 804.4L726 812.8L728.3 824.8L717.6 818.8L706.9 824.8L709.2 812.8L700.3 804.4L712.4 802.9ZM736.9 835.8L742.1 846.9L754.2 848.4L745.3 856.7L747.6 868.7L736.9 862.8L726.2 868.7L728.5 856.7L719.6 848.4L731.7 846.9ZM756.2 880.9L761.4 891.9L773.5 893.4L764.6 901.8L766.9 913.8L756.2 907.9L745.5 913.8L747.8 901.8L738.9 893.4L751 891.9ZM775.5 923.9L780.7 935L792.8 936.5L783.9 944.8L786.2 956.8L775.5 950.9L764.8 956.8L767.1 944.8L758.2 936.5L770.3 935ZM794.8 963.1L800 974.1L812.1 975.6L803.2 984L805.5 996L794.8 990.1L784.1 996L786.4 984L777.5 975.6L789.6 974.1ZM814.1 984.7L819.3 995.8L831.4 997.3L822.5 1005.7L824.8 1017.7L814.1 1011.7L803.4 1017.7L805.8 1005.7L796.8 997.3L809 995.8ZM833.4 1009.2L838.6 1020.3L850.7 1021.7L841.8 1030.1L844.1 1042.1L833.4 1036.2L822.7 1042.1L825.1 1030.1L816.1 1021.7L828.3 1020.3ZM852.7 1023.6L857.9 1034.6L870 1036.1L861.1 1044.5L863.4 1056.5L852.7 1050.6L842 1056.5L844.4 1044.5L835.4 1036.1L847.6 1034.6ZM872 1030.4L877.2 1041.5L889.4 1043L880.4 1051.3L882.7 1063.3L872 1057.4L861.3 1063.3L863.7 1051.3L854.7 1043L866.9 1041.5ZM891.4 1035L896.5 1046.1L908.7 1047.5L899.7 1055.9L902.1 1067.9L891.4 1062L880.7 1067.9L883 1055.9L874 1047.5L886.2 1046.1ZM910.7 1036.1L915.8 1047.2L928 1048.7L919 1057L921.4 1069L910.7 1063.1L900 1069L902.3 1057L893.4 1048.7L905.5 1047.2ZM930 1035L935.1 1046.1L947.3 1047.5L938.3 1055.9L940.7 1067.9L930 1062L919.3 1067.9L921.6 1055.9L912.7 1047.5L924.8 1046.1ZM949.3 1031.5L954.5 1042.6L966.6 1044.1L957.6 1052.5L960 1064.5L949.3 1058.5L938.6 1064.5L940.9 1052.5L932 1044.1L944.1 1042.6ZM968.6 1027L973.8 1038.1L985.9 1039.6L977 1047.9L979.3 1059.9L968.6 1054L957.9 1059.9L960.2 1047.9L951.3 1039.6L963.4 1038.1ZM987.9 1021.3L993.1 1032.4L1005.2 1033.8L996.3 1042.2L998.6 1054.2L987.9 1048.3L977.2 1054.2L979.5 1042.2L970.6 1033.8L982.7 1032.4ZM1007.2 1014.4L1012.4 1025.5L1024.5 1027L1015.6 1035.3L1017.9 1047.3L1007.2 1041.4L996.5 1047.3L998.8 1035.3L989.9 1027L1002 1025.5ZM1026.5 1005.3L1031.7 1016.4L1043.8 1017.9L1034.9 1026.2L1037.2 1038.2L1026.5 1032.3L1015.8 1038.2L1018.1 1026.2L1009.2 1017.9L1021.3 1016.4ZM1045.8 993.9L1051 1005L1063.1 1006.5L1054.2 1014.8L1056.5 1026.8L1045.8 1020.9L1035.1 1026.8L1037.4 1014.8L1028.5 1006.5L1040.6 1005ZM1065.1 984.7L1070.3 995.8L1082.4 997.3L1073.5 1005.7L1075.8 1017.7L1065.1 1011.7L1054.4 1017.7L1056.8 1005.7L1047.8 997.3L1059.9 995.8ZM1084.4 975.6L1089.6 986.7L1101.7 988.2L1092.8 996.5L1095.1 1008.5L1084.4 1002.6L1073.7 1008.5L1076.1 996.5L1067.1 988.2L1079.3 986.7ZM1103.7 963.1L1108.9 974.1L1121 975.6L1112.1 984L1114.4 996L1103.7 990.1L1093 996L1095.4 984L1086.4 975.6L1098.6 974.1ZM1123 953.9L1128.2 965L1140.4 966.5L1131.4 974.8L1133.7 986.8L1123 980.9L1112.3 986.8L1114.7 974.8L1105.7 966.5L1117.9 965ZM1142.4 940.2L1147.5 951.3L1159.7 952.8L1150.7 961.1L1153.1 973.2L1142.4 967.2L1131.7 973.2L1134 961.1L1125 952.8L1137.2 951.3ZM1161.7 925.4L1166.8 936.5L1179 938L1170 946.3L1172.4 958.3L1161.7 952.4L1151 958.3L1153.3 946.3L1144.4 938L1156.5 936.5ZM1181 907.5L1186.1 918.5L1198.3 920L1189.3 928.4L1191.7 940.4L1181 934.5L1170.3 940.4L1172.6 928.4L1163.7 920L1175.8 918.5ZM1200.3 891.8L1205.4 902.9L1217.6 904.4L1208.6 912.7L1211 924.8L1200.3 918.8L1189.6 924.8L1191.9 912.7L1183 904.4L1195.1 902.9ZM1219.6 880L1224.8 891L1236.9 892.5L1228 900.9L1230.3 912.9L1219.6 907L1208.9 912.9L1211.2 900.9L1202.3 892.5L1214.4 891ZM1238.9 861.8L1244.1 872.9L1256.2 874.4L1247.3 882.7L1249.6 894.7L1238.9 888.8L1228.2 894.7L1230.5 882.7L1221.6 874.4L1233.7 872.9ZM1258.2 844.9L1263.4 856L1275.5 857.5L1266.6 865.8L1268.9 877.8L1258.2 871.9L1247.5 877.8L1249.8 865.8L1240.9 857.5L1253 856ZM1277.5 826.8L1282.7 837.8L1294.8 839.3L1285.9 847.7L1288.2 859.7L1277.5 853.8L1266.8 859.7L1269.1 847.7L1260.2 839.3L1272.3 837.8ZM1296.8 806.2L1302 817.3L1314.1 818.8L1305.2 827.1L1307.5 839.1L1296.8 833.2L1286.1 839.1L1288.4 827.1L1279.5 818.8L1291.6 817.3ZM1316.1 790.7L1321.3 801.8L1333.4 803.3L1324.5 811.6L1326.8 823.6L1316.1 817.7L1305.4 823.6L1307.8 811.6L1298.8 803.3L1310.9 801.8ZM1335.4 767.1L1340.6 778.1L1352.7 779.6L1343.8 788L1346.1 800L1335.4 794.1L1324.7 800L1327.1 788L1318.1 779.6L1330.3 778.1ZM1354.7 747.7L1359.9 758.7L1372 760.2L1363.1 768.6L1365.4 780.6L1354.7 774.7L1344 780.6L1346.4 768.6L1337.4 760.2L1349.6 758.7ZM1374 730.6L1379.2 741.7L1391.4 743.2L1382.4 751.6L1384.7 763.6L1374 757.6L1363.3 763.6L1365.7 751.6L1356.7 743.2L1368.9 741.7ZM1393.4 713.6L1398.5 724.7L1410.7 726.2L1401.7 734.6L1404 746.6L1393.4 740.6L1382.7 746.6L1385 734.6L1376 726.2L1388.2 724.7ZM1412.7 694.2L1417.8 705.3L1430 706.8L1421 715.2L1423.4 727.2L1412.7 721.2L1402 727.2L1404.3 715.2L1395.3 706.8L1407.5 705.3ZM1432 683.4L1437.1 694.5L1449.3 696L1440.3 704.3L1442.7 716.3L1432 710.4L1421.3 716.3L1423.6 704.3L1414.7 696L1426.8 694.5ZM1451.3 674.6L1456.4 685.7L1468.6 687.2L1459.6 695.5L1462 707.5L1451.3 701.6L1440.6 707.5L1442.9 695.5L1434 687.2L1446.1 685.7ZM1470.6 666.6L1475.8 677.7L1487.9 679.2L1478.9 687.5L1481.3 699.5L1470.6 693.6L1459.9 699.5L1462.2 687.5L1453.3 679.2L1465.4 677.7ZM1489.9 659.8L1495.1 670.8L1507.2 672.3L1498.3 680.7L1500.6 692.7L1489.9 686.8L1479.2 692.7L1481.5 680.7L1472.6 672.3L1484.7 670.8ZM1509.2 655.8L1514.4 666.8L1526.5 668.3L1517.6 676.7L1519.9 688.7L1509.2 682.8L1498.5 688.7L1500.8 676.7L1491.9 668.3L1504 666.8ZM1528.5 658.6L1533.7 669.7L1545.8 671.2L1536.9 679.5L1539.2 691.5L1528.5 685.6L1517.8 691.5L1520.1 679.5L1511.2 671.2L1523.3 669.7ZM1547.8 669.3L1553 680.4L1565.1 681.9L1556.2 690.3L1558.5 702.3L1547.8 696.3L1537.1 702.3L1539.4 690.3L1530.5 681.9L1542.6 680.4ZM1567.1 685.3L1572.3 696.4L1584.4 697.9L1575.5 706.2L1577.8 718.3L1567.1 712.3L1556.4 718.3L1558.7 706.2L1549.8 697.9L1561.9 696.4ZM1586.4 701.3L1591.6 712.4L1603.7 713.9L1594.8 722.2L1597.1 734.2L1586.4 728.3L1575.7 734.2L1578.1 722.2L1569.1 713.9L1581.3 712.4ZM1605.7 714.8L1610.9 725.9L1623 727.4L1614.1 735.7L1616.4 747.7L1605.7 741.8L1595 747.7L1597.4 735.7L1588.4 727.4L1600.6 725.9ZM1625 730.8L1630.2 741.8L1642.3 743.3L1633.4 751.7L1635.7 763.7L1625 757.8L1614.3 763.7L1616.7 751.7L1607.7 743.3L1619.9 741.8ZM1644.3 752.1L1649.5 763.2L1661.7 764.7L1652.7 773L1655 785L1644.3 779.1L1633.6 785L1636 773L1627 764.7L1639.2 763.2ZM1663.7 785.6L1668.8 796.6L1681 798.1L1672 806.5L1674.4 818.5L1663.7 812.6L1653 818.5L1655.3 806.5L1646.3 798.1L1658.5 796.6ZM1683 828.2L1688.1 839.3L1700.3 840.8L1691.3 849.2L1693.7 861.2L1683 855.2L1672.3 861.2L1674.6 849.2L1665.7 840.8L1677.8 839.3ZM1702.3 877.8L1707.4 888.9L1719.6 890.4L1710.6 898.7L1713 910.7L1702.3 904.8L1691.6 910.7L1693.9 898.7L1685 890.4L1697.1 888.9ZM1721.6 930.5L1726.8 941.6L1738.9 943.1L1729.9 951.4L1732.3 963.4L1721.6 957.5L1710.9 963.4L1713.2 951.4L1704.3 943.1L1716.4 941.6ZM1740.9 953L1746.1 964.1L1758.2 965.6L1749.3 973.9L1751.6 985.9L1740.9 980L1730.2 985.9L1732.5 973.9L1723.6 965.6L1735.7 964.1ZM1760.2 979L1765.4 990.1L1777.5 991.6L1768.6 1000L1770.9 1012L1760.2 1006L1749.5 1012L1751.8 1000L1742.9 991.6L1755 990.1ZM1779.5 1000L1784.7 1011.1L1796.8 1012.6L1787.9 1021L1790.2 1033L1779.5 1027L1768.8 1033L1771.1 1021L1762.2 1012.6L1774.3 1011.1Z"/>
</g>
<rect x="234.9" y="53" width="1544.6" height="1141.5" fill="none" stroke="#1c1c1c" stroke-width="3.6"/>
<path fill="none" stroke="#1c1c1c" stroke-width="3.6" d="M209.5 1194.5H234.9M209.5 1080.3H234.9M209.5 966.2H234.9M209.5 852H234.9M209.5 737.9H234.9M209.5 623.8H234.9M209.5 509.6H234.9M209.5 395.5H234.9M209.5 281.3H234.9M209.5 167.1H234.9M209.5 53H234.9M222 1137.4H234.9M222 1023.3H234.9M222 909.1H234.9M222 795H234.9M222 680.8H234.9M222 566.7H234.9M222 452.5H234.9M222 338.4H234.9M222 224.2H234.9M222 110.1H234.9M234.9 1194.5V1219M621 1194.5V1219M1007.2 1194.5V1219M1393.4 1194.5V1219M1779.5 1194.5V1219M428 1194.5V1207M814.1 1194.5V1207M1200.3 1194.5V1207M1586.4 1194.5V1207"/>
<g font-size="57"><text x="194.5" y="1207.1" text-anchor="end">0.0</text><text x="194.5" y="1093.3" text-anchor="end">0.1</text><text x="194.5" y="979.5" text-anchor="end">0.2</text><text x="194.5" y="865.7" text-anchor="end">0.3</text><text x="194.5" y="751.9" text-anchor="end">0.4</text><text x="194.5" y="638.1" text-anchor="end">0.5</text><text x="194.5" y="524.3" text-anchor="end">0.6</text><text x="194.5" y="410.5" text-anchor="end">0.7</text><text x="194.5" y="296.7" text-anchor="end">0.8</text><text x="194.5" y="182.9" text-anchor="end">0.9</text><text x="194.5" y="69.2" text-anchor="end">1.0</text><text x="233.9" y="1273" text-anchor="middle">220</text><text x="620" y="1273" text-anchor="middle">240</text><text x="1006.2" y="1273" text-anchor="middle">260</text><text x="1392.4" y="1273" text-anchor="middle">280</text><text x="1778.5" y="1273" text-anchor="middle">300</text></g>
<text font-size="78" text-anchor="middle" transform="translate(67.5 633.3) rotate(-90)">Absorbance</text>
<text x="845" y="1359.5" font-size="66"><tspan font-size="61" style="font-family:&quot;Noto Serif CJK SC&quot;,&quot;Liberation Serif&quot;,serif">λ</tspan><tspan style="font-family:&quot;Liberation Serif&quot;,serif">,</tspan></text><text font-size="82" transform="translate(916.5 1359.5) scale(0.945 1)">nm</text>
<path fill="#000000" d="M1431.8 75.2h27.4v27.4h-27.4z"/><text x="1524" y="108.4" font-size="57">sesame</text><path fill="#ff0000" d="M1431.5 157.7a14 14 0 1 0 28.1 0a14 14 0 1 0 -28.1 0z"/><text x="1524" y="177.2" font-size="57">rapeseed</text><path fill="#00ff00" d="M1445.5 204.7L1463.9 237.4L1427.1 237.4Z"/><text x="1524" y="246" font-size="57">5/95</text><path fill="#0000ff" d="M1427.5 284.6L1463.5 284.6L1445.5 316.6Z"/><text x="1524" y="314.8" font-size="57">10/90</text><path fill="#00ffff" d="M1445.5 345.2L1463.4 364.1L1445.5 383L1427.6 364.1Z"/><text x="1524" y="383.6" font-size="57">30/70</text><path fill="#ffff00" d="M1423.7 432.9L1456.4 415L1456.4 450.8Z"/><text x="1524" y="452.4" font-size="57">50/50</text><path fill="#ff00ff" d="M1467.3 501.7L1434.6 519.5L1434.6 483.8Z"/><text x="1524" y="521.2" font-size="57">70/30</text><path fill="#008000" d="M1447.5 554.8L1452.7 565.9L1464.8 567.4L1455.9 575.7L1458.2 587.7L1447.5 581.8L1436.8 587.7L1439.1 575.7L1430.2 567.4L1442.3 565.9Z"/><text x="1524" y="590" font-size="57">90/10</text>
</g>
</svg>
</body></html>
